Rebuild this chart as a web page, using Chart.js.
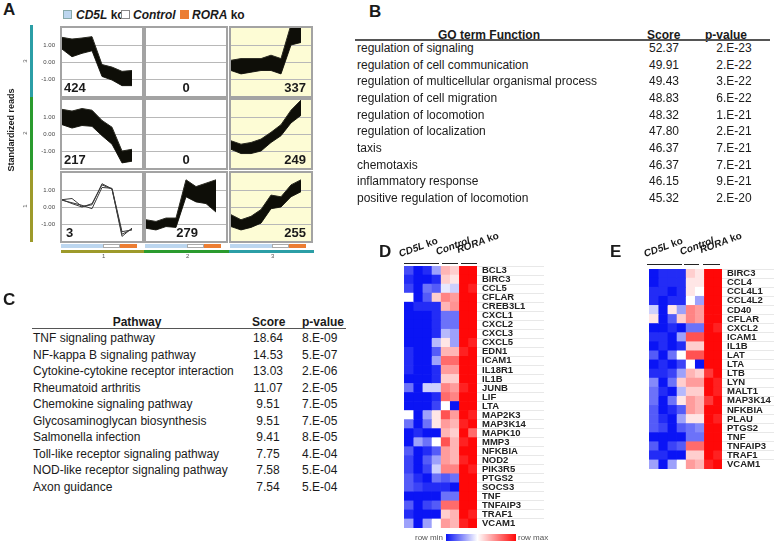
<!DOCTYPE html>
<html>
<head>
<meta charset="utf-8">
<script src="https://cdn.jsdelivr.net/npm/chart.js@4.4.1/dist/chart.umd.min.js"></script>
<style>
  body { margin: 0; background: #fff; }
  #page { position: relative; width: 774px; height: 545px; overflow: hidden; font-family: "Liberation Sans", Arial, sans-serif; color: #1a1a1a; }
  .abs { position: absolute; white-space: nowrap; }
  canvas { position: absolute; }
  .panel { font-weight: bold; font-size: 17px; line-height: 17px; }
  .cnt { font-weight: bold; font-size: 13px; line-height: 13px; }
  .trow { font-size: 12px; line-height: 14px; }
  .thead { font-size: 12px; line-height: 14px; font-weight: bold; }
  .hdr { font-size: 10px; font-weight: bold; transform-origin: 0 100%; transform: rotate(-20deg); }
</style>
</head>
<body>
<div id="page"></div>
<script>
// ---------- data: panel A (standardized reads per sample, envelopes of each cluster) ----------
const sampleX = [0, 1, 2, 3, 4, 5, 6, 7];   // 4 CD5L ko, 2 Control, 2 RORA ko
const clusterCounts = [[424, 0, 337], [217, 0, 249], [3, 279, 255]];

const c3s1Hi = [1.45, 1.35, 1.41, 1.49, -0.15, -0.3, -0.55, -0.5];
const c3s1Lo = [0.76, 0.31, 0.51, 0.66, -0.85, -1.06, -1.39, -1.39];
const c3s3Hi = [0.1, 0.2, 0.2, 0.2, 0.4, 0.2, 2.2, 2.15];
const c3s3Lo = [-0.5, -0.7, -0.6, -0.5, -0.5, -0.7, 1.0, 1.15];

const c2s1Hi = [1.45, 1.35, 1.5, 1.4, 0.8, 0.4, -1.0, -0.9];
const c2s1Lo = [0.55, 0.35, 0.5, 0.45, -0.1, -0.6, -1.7, -1.6];
const c2s3Hi = [-0.4, -0.6, -0.5, -0.3, 0.1, 0.55, 1.4, 2.0];
const c2s3Lo = [-0.9, -1.15, -1.15, -1.0, -0.5, -0.1, 0.65, 1.1];

const c1s1LineA = [0.43, 0.5, 0.03, 0.13, 1.37, 1.07, -1.73, -1.24];
const c1s1LineB = [0.43, 0.2, 0.0, 0.2, 1.3, 1.05, -1.6, -1.3];
const c1s1LineC = [0.4, 0.25, 0.1, -0.1, 1.15, 1.1, -1.45, -1.35];
const c1s2Hi = [-0.75, -0.85, -0.65, -0.65, 1.6, 1.2, 1.4, 1.6];
const c1s2Lo = [-1.25, -1.35, -1.15, -1.2, 0.6, 0.3, 0.2, -0.3];
const c1s3Hi = [-0.45, -0.75, -0.55, -0.15, 0.7, 0.6, 1.3, 1.6];
const c1s3Lo = [-1.15, -1.35, -1.2, -0.95, -0.1, 0.0, 0.6, 0.9];

// ---------- data: panel B ----------
const goTerms = ['regulation of signaling', 'regulation of cell communication',
  'regulation of multicellular organismal process', 'regulation of cell migration',
  'regulation of locomotion', 'regulation of localization', 'taxis', 'chemotaxis',
  'inflammatory response', 'positive regulation of locomotion'];
const goScores = ['52.37', '49.91', '49.43', '48.83', '48.32', '47.80', '46.37', '46.37', '46.15', '45.32'];
const goPvals = ['2.E-23', '2.E-22', '3.E-22', '6.E-22', '1.E-21', '2.E-21', '7.E-21', '7.E-21', '9.E-21', '2.E-20'];

// ---------- data: panel C ----------
const pathways = ['TNF signaling pathway', 'NF-kappa B signaling pathway',
  'Cytokine-cytokine receptor interaction', 'Rheumatoid arthritis', 'Chemokine signaling pathway',
  'Glycosaminoglycan biosynthesis', 'Salmonella infection', 'Toll-like receptor signaling pathway',
  'NOD-like receptor signaling pathway', 'Axon guidance'];
const pathScores = ['18.64', '14.53', '13.03', '11.07', '9.51', '9.51', '9.41', '7.75', '7.58', '7.54'];
const pathPvals = ['8.E-09', '5.E-07', '2.E-06', '2.E-05', '7.E-05', '7.E-05', '8.E-05', '4.E-04', '5.E-04', '5.E-04'];

// ---------- data: panel D heatmap (0 = row min, 1 = row max) ----------
const genesD = ['BCL3', 'BIRC3', 'CCL5', 'CFLAR', 'CREB3L1', 'CXCL1', 'CXCL2', 'CXCL3', 'CXCL5', 'EDN1',
  'ICAM1', 'IL18R1', 'IL1B', 'JUNB', 'LIF', 'LTA', 'MAP2K3', 'MAP3K14', 'MAPK10', 'MMP3', 'NFKBIA',
  'NOD2', 'PIK3R5', 'PTGS2', 'SOCS3', 'TNF', 'TNFAIP3', 'TRAF1', 'VCAM1'];
const heatD = [
  [0.12, 0.0, 0.05, 0.3, 0.65, 0.6, 1, 1],
  [0.05, 0.0, 0.0, 0.05, 0.6, 0.55, 1, 1],
  [0.1, 0.0, 0.2, 0.15, 0.45, 0.4, 1, 0.95],
  [0.5, 0.0, 0.15, 0.6, 0.75, 0.7, 1, 1],
  [0.0, 0.05, 0.05, 0.05, 0.65, 0.72, 1, 1],
  [0.0, 0.0, 0.0, 0.05, 0.2, 0.2, 1, 1],
  [0.0, 0.0, 0.0, 0.05, 0.2, 0.2, 1, 1],
  [0.0, 0.0, 0.0, 0.05, 0.35, 0.3, 1, 1],
  [0.0, 0.0, 0.0, 0.35, 0.55, 0.3, 1, 0.95],
  [0.05, 0.0, 0.0, 0.15, 0.65, 0.65, 0.95, 1],
  [0.05, 0.0, 0.0, 0.3, 0.8, 0.8, 1, 1],
  [0.05, 0.0, 0.0, 0.05, 0.7, 0.7, 1, 1],
  [0.0, 0.0, 0.0, 0.05, 0.6, 0.6, 1, 1],
  [0.2, 0.0, 0.4, 0.4, 0.75, 0.7, 0.95, 1],
  [0.0, 0.0, 0.0, 0.05, 0.8, 0.75, 1, 1],
  [0.0, 0.0, 0.0, 0.1, 0.5, 0.0, 1, 1],
  [0.5, 0.0, 0.3, 0.55, 0.85, 0.7, 1, 0.95],
  [0.2, 0.0, 0.2, 0.55, 0.7, 0.65, 0.95, 1],
  [0.0, 0.05, 0.0, 0.0, 0.65, 0.6, 1, 0.8],
  [0.0, 0.3, 0.2, 0.5, 0.85, 0.65, 0.95, 1],
  [0.15, 0.0, 0.05, 0.15, 0.7, 0.65, 1, 1],
  [0.1, 0.0, 0.15, 0.3, 0.7, 0.65, 0.95, 1],
  [0.1, 0.0, 0.1, 0.4, 0.75, 0.75, 1, 0.95],
  [0.15, 0.05, 0.0, 0.2, 0.15, 0.2, 1, 1],
  [0.15, 0.1, 0.05, 0.05, 0.05, 0.0, 1, 1],
  [0.0, 0.0, 0.0, 0.0, 0.2, 0.2, 1, 1],
  [0.15, 0.0, 0.1, 0.15, 0.8, 0.8, 1, 1],
  [0.05, 0.0, 0.0, 0.0, 0.6, 0.65, 1, 0.95],
  [0.3, 0.0, 0.3, 0.5, 0.7, 0.65, 0.95, 1]
];

// ---------- data: panel E heatmap ----------
const genesE = ['BIRC3', 'CCL4', 'CCL4L1', 'CCL4L2', 'CD40', 'CFLAR', 'CXCL2', 'ICAM1', 'IL1B', 'LAT',
  'LTA', 'LTB', 'LYN', 'MALT1', 'MAP3K14', 'NFKBIA', 'PLAU', 'PTGS2', 'TNF', 'TNFAIP3', 'TRAF1', 'VCAM1'];
const heatE = [
  [0.0, 0.05, 0.05, 0.05, 0.6, 0.55, 1, 1],
  [0.0, 0.05, 0.05, 0.05, 0.55, 0.55, 1, 1],
  [0.05, 0.05, 0.0, 0.05, 0.55, 0.5, 1, 1],
  [0.05, 0.0, 0.05, 0.05, 0.5, 0.3, 1, 1],
  [0.4, 0.0, 0.55, 0.3, 0.75, 0.7, 1, 1],
  [0.55, 0.0, 0.15, 0.6, 0.75, 0.7, 1, 1],
  [0.0, 0.0, 0.05, 0.0, 0.2, 0.2, 1, 0.95],
  [0.05, 0.05, 0.0, 0.3, 0.85, 0.85, 1, 1],
  [0.0, 0.05, 0.0, 0.05, 0.6, 0.6, 1, 1],
  [0.15, 0.0, 0.2, 0.5, 0.85, 0.85, 1, 1],
  [0.0, 0.05, 0.0, 0.1, 0.5, 0.0, 1, 1],
  [0.05, 0.05, 0.1, 0.3, 0.65, 0.6, 0.9, 1],
  [0.25, 0.0, 0.2, 0.6, 0.7, 0.7, 1, 0.95],
  [0.2, 0.05, 0.0, 0.35, 0.6, 0.6, 1, 0.95],
  [0.2, 0.0, 0.2, 0.55, 0.7, 0.65, 0.9, 1],
  [0.15, 0.0, 0.05, 0.15, 0.7, 0.65, 1, 1],
  [0.15, 0.05, 0.0, 0.3, 0.55, 0.55, 1, 0.95],
  [0.15, 0.1, 0.0, 0.15, 0.2, 0.25, 1, 1],
  [0.0, 0.0, 0.0, 0.0, 0.2, 0.2, 1, 1],
  [0.15, 0.0, 0.1, 0.15, 0.8, 0.8, 1, 1],
  [0.05, 0.05, 0.0, 0.0, 0.6, 0.6, 1, 0.95],
  [0.3, 0.0, 0.3, 0.5, 0.7, 0.65, 0.95, 1]
];

// ---------- helpers ----------
const FONT = '"Liberation Sans", Arial, sans-serif';
const page = document.getElementById('page');

function put(html, cls, css) {
  const d = document.createElement('div');
  d.className = 'abs ' + (cls || '');
  d.innerHTML = html;
  Object.assign(d.style, css);
  page.appendChild(d);
  return d;
}
function box(x, y, w, h, bg, extra) {
  return put('', '', Object.assign({ left: x + 'px', top: y + 'px', width: w + 'px', height: h + 'px', background: bg }, extra || {}));
}

const cellFrame = {
  id: 'cellFrame',
  beforeDraw(chart, args, o) {
    const a = chart.chartArea, ctx = chart.ctx;
    if (o.bg) { ctx.save(); ctx.fillStyle = o.bg; ctx.fillRect(a.left, a.top, a.right - a.left, a.bottom - a.top); ctx.restore(); }
  },
  afterDraw(chart) {
    const a = chart.chartArea, ctx = chart.ctx;
    ctx.save();
    ctx.strokeStyle = '#a3a3a3';
    ctx.lineWidth = 2;
    ctx.strokeRect(a.left - 1, a.top - 1, a.right - a.left + 2, a.bottom - a.top + 2);
    ctx.restore();
  }
};

// one cluster plot (one cell of the 3x3 grid)
function clusterCell(left, top, bands, lines, bg, withTicks) {
  const W = 80, H = 68, axisW = withTicks ? 32 : 0;
  const cv = document.createElement('canvas');
  cv.width = W + axisW + (withTicks ? 2 : 4);
  cv.height = H + 4;
  cv.style.left = (left - axisW - (withTicks ? 0 : 2)) + 'px';
  cv.style.top = (top - 2) + 'px';
  page.appendChild(cv);
  const ds = [];
  bands.forEach(b => {
    ds.push({ data: b[0], fill: '+1', backgroundColor: '#0e0e08', borderColor: '#2a2a22', borderWidth: 1, clip: 0 });
    ds.push({ data: b[1], fill: false, borderColor: '#2a2a22', borderWidth: 1, clip: 0 });
  });
  lines.forEach(l => ds.push({ data: l, fill: false, borderColor: '#3a3a3a', borderWidth: 1, clip: 0 }));
  new Chart(cv, {
    type: 'line',
    data: { labels: sampleX, datasets: ds },
    plugins: [cellFrame],
    options: {
      responsive: false, animation: false, devicePixelRatio: 1,
      layout: { padding: { left: withTicks ? 0 : 2, right: 2, top: 2, bottom: 2 } },
      elements: { point: { radius: 0 }, line: { tension: 0 } },
      plugins: { legend: { display: false }, tooltip: { enabled: false }, cellFrame: { bg: bg } },
      scales: {
        x: { type: 'linear', display: false, min: 0, max: 8 },
        y: {
          min: -2, max: 2,
          afterBuildTicks: s => { s.ticks = [1, 0, -1].map(v => ({ value: v })); },
          afterFit: s => { s.width = axisW; s.paddingTop = 0; s.paddingBottom = 0; },
          grid: { color: '#b8b8b8', drawTicks: false, lineWidth: 1 },
          border: { display: false },
          ticks: { display: withTicks, padding: 7, color: '#444', font: { size: 6, family: FONT }, callback: v => v.toFixed(2) }
        }
      }
    }
  });
}

function heatColor(v) {
  if (v < 0.5) {
    const t = v / 0.5;
    return `rgb(${Math.round(10 + 245 * t)},${Math.round(20 + 235 * t)},${Math.round(245 + 10 * t)})`;
  }
  const t = (v - 0.5) / 0.5;
  return `rgb(255,${Math.round(255 * (1 - t) + 8 * t)},${Math.round(255 * (1 - t) + 8 * t)})`;
}

function heatmap(genes, vals, left, top, areaH, labelW) {
  const cv = document.createElement('canvas');
  cv.width = 73 + labelW;
  cv.height = areaH;
  cv.style.left = left + 'px';
  cv.style.top = top + 'px';
  page.appendChild(cv);
  const datasets = sampleX.map(j => ({
    data: genes.map(() => [j, j + 1]),
    backgroundColor: vals.map(r => heatColor(r[j])),
    borderWidth: 0, grouped: false, barPercentage: 1, categoryPercentage: 1
  }));
  const tickLen = labelW - 8;
  new Chart(cv, {
    type: 'bar',
    data: { labels: genes, datasets: datasets },
    options: {
      indexAxis: 'y', responsive: false, animation: false, devicePixelRatio: 1,
      layout: { padding: 0 },
      plugins: { legend: { display: false }, tooltip: { enabled: false } },
      scales: {
        x: { type: 'linear', min: 0, max: 8, display: false },
        y: {
          position: 'right',
          grid: { display: true, drawOnChartArea: false, drawTicks: true, tickLength: tickLen, offset: true, color: '#e8e8e8', lineWidth: 1 },
          border: { display: false },
          afterFit: s => { s.width = labelW; s.paddingTop = 0; s.paddingBottom = 0; },
          ticks: { padding: 5 - tickLen, autoSkip: false, color: '#222', font: { size: 9.5, weight: 'bold', family: FONT } }
        }
      }
    }
  });
}

// ---------- panel A ----------
put('A', 'panel', { left: '3px', top: '1px' });
box(63, 10, 9, 9, '#bcd6ef', { border: '1px solid #8aa' , boxSizing: 'border-box'});
put('<b><i>CD5L</i> ko</b>', '', { left: '76px', top: '8px', fontSize: '12px' });
box(121, 10, 9, 9, '#fff', { border: '1px solid #888', boxSizing: 'border-box' });
put('<b><i>Control</i></b>', '', { left: '133px', top: '8px', fontSize: '12px' });
box(180, 10, 9, 9, '#ec7d32');
put('<b><i>RORA</i> ko</b>', '', { left: '192px', top: '8px', fontSize: '12px' });

const colLefts = [62, 146, 231];
const rowTops = [28, 100, 173];
const yellow = '#fdfcd5';
clusterCell(colLefts[0], rowTops[0], [[c3s1Hi, c3s1Lo]], [], null, true);
clusterCell(colLefts[1], rowTops[0], [], [], null, false);
clusterCell(colLefts[2], rowTops[0], [[c3s3Hi, c3s3Lo]], [], yellow, false);
clusterCell(colLefts[0], rowTops[1], [[c2s1Hi, c2s1Lo]], [], null, true);
clusterCell(colLefts[1], rowTops[1], [], [], null, false);
clusterCell(colLefts[2], rowTops[1], [[c2s3Hi, c2s3Lo]], [], yellow, false);
clusterCell(colLefts[0], rowTops[2], [], [c1s1LineA, c1s1LineB, c1s1LineC], null, true);
clusterCell(colLefts[1], rowTops[2], [[c1s2Hi, c1s2Lo]], [], null, false);
clusterCell(colLefts[2], rowTops[2], [[c1s3Hi, c1s3Lo]], [], yellow, false);

// cluster sizes
clusterCounts.forEach((row, r) => {
  const base = rowTops[r] + 53;
  put(String(row[0]), 'cnt', { left: (colLefts[0] + (row[0] < 10 ? 4 : 2)) + 'px', top: base + 'px' });
  const mid = put(String(row[1]), 'cnt', { left: (colLefts[1] + 40) + 'px', top: base + 'px' });
  mid.style.transform = 'translateX(' + (row[1] > 9 ? '-45%' : '-50%') + ')';
  const rt = put(String(row[2]), 'cnt', { left: (colLefts[2] + 75) + 'px', top: base + 'px' });
  rt.style.transform = 'translateX(-100%)';
});

// sample group bars under each column, and column colour lines
const colColors = ['#9d9a2a', '#2a9b2e', '#2b9ea6'];
colLefts.forEach((L, c) => {
  box(L - 1, 244, 42, 4, '#bcd6ef');
  box(L + 41, 244, 17, 4, '#fff', { border: '1px solid #aaa', boxSizing: 'border-box' });
  box(L + 58, 244, 17, 4, '#ec7d32');
  box(L - 1 + (c ? -1 : 0), 250, 85, 2.5, colColors[c]);
  put(String(c + 1), '', { left: (L + 40) + 'px', top: '253px', fontSize: '6px', color: '#555' });
});
// row colour bar on the left
box(30, 25, 2.5, 72, colColors[2]);
box(30, 97, 2.5, 73, colColors[1]);
box(30, 170, 2.5, 72, colColors[0]);
['3', '2', '1'].forEach((t, i) => {
  put(t, '', { left: '23px', top: (rowTops[i] + 30) + 'px', fontSize: '6px', color: '#555', transform: 'rotate(-90deg)' });
});
put('Standardized reads', '', { left: '-39px', top: '125px', width: '100px', textAlign: 'center', fontSize: '9px', fontWeight: 'bold', transform: 'rotate(-90deg)' });

// ---------- panel B ----------
put('B', 'panel', { left: '369px', top: '3px' });
put('GO term Function', 'thead', { left: '489px', top: '28px', transform: 'translateX(-50%)' });
put('Score', 'thead', { left: '647px', top: '28px' });
put('p-value', 'thead', { left: '705px', top: '28px' });
box(355, 39, 415, 1.5, '#555');
goTerms.forEach((t, i) => {
  const y = 41 + i * 16.65;
  put(t, 'trow', { left: '357px', top: y + 'px' });
  put(goScores[i], 'trow', { left: '664px', top: y + 'px', transform: 'translateX(-50%)' });
  put(goPvals[i], 'trow', { left: '734px', top: y + 'px', transform: 'translateX(-50%)' });
});

// ---------- panel C ----------
put('C', 'panel', { left: '3px', top: '291px' });
put('Pathway', 'thead', { left: '137px', top: '315px', transform: 'translateX(-50%)' });
put('Score', 'thead', { left: '252px', top: '315px' });
put('p-value', 'thead', { left: '302px', top: '315px' });
box(32, 327.5, 314, 1.5, '#555');
pathways.forEach((t, i) => {
  const y = 331 + i * 16.55;
  put(t, 'trow', { left: '33px', top: y + 'px' });
  put(pathScores[i], 'trow', { left: '268px', top: y + 'px', transform: 'translateX(-50%)' });
  put(pathPvals[i], 'trow', { left: '302px', top: y + 'px' });
});

// ---------- panel D ----------
put('D', 'panel', { left: '379px', top: '243px' });
put('<i>CD5L</i> ko', 'hdr', { left: '401px', top: '248px' });
put('<i>Control</i>', 'hdr', { left: '438px', top: '246px' });
put('<i>RORA</i> ko', 'hdr', { left: '459px', top: '244px' });
box(404, 262.5, 35, 1.5, '#222');
box(442, 262.5, 16, 1.5, '#222');
box(461, 262.5, 16, 1.5, '#222');
heatmap(genesD, heatD, 404, 266, 262, 75);
put('row min', '', { left: '443px', top: '533px', fontSize: '8px', color: '#555', transform: 'translateX(-100%)' });
box(446, 534, 70, 7, 'linear-gradient(to right, #0a14f5, #ffffff 45%, #ff0808)');
put('row max', '', { left: '518px', top: '533px', fontSize: '8px', color: '#555' });

// ---------- panel E ----------
put('E', 'panel', { left: '610px', top: '243px' });
put('<i>CD5L</i> ko', 'hdr', { left: '646px', top: '248px' });
put('<i>Control</i>', 'hdr', { left: '682px', top: '246px' });
put('<i>RORA</i> ko', 'hdr', { left: '702px', top: '244px' });
box(647, 263.5, 35, 1.5, '#222');
box(684, 263.5, 15, 1.5, '#222');
box(703, 263.5, 17, 1.5, '#222');
heatmap(genesE, heatE, 649, 269, 200, 60);
</script>
</body>
</html>
